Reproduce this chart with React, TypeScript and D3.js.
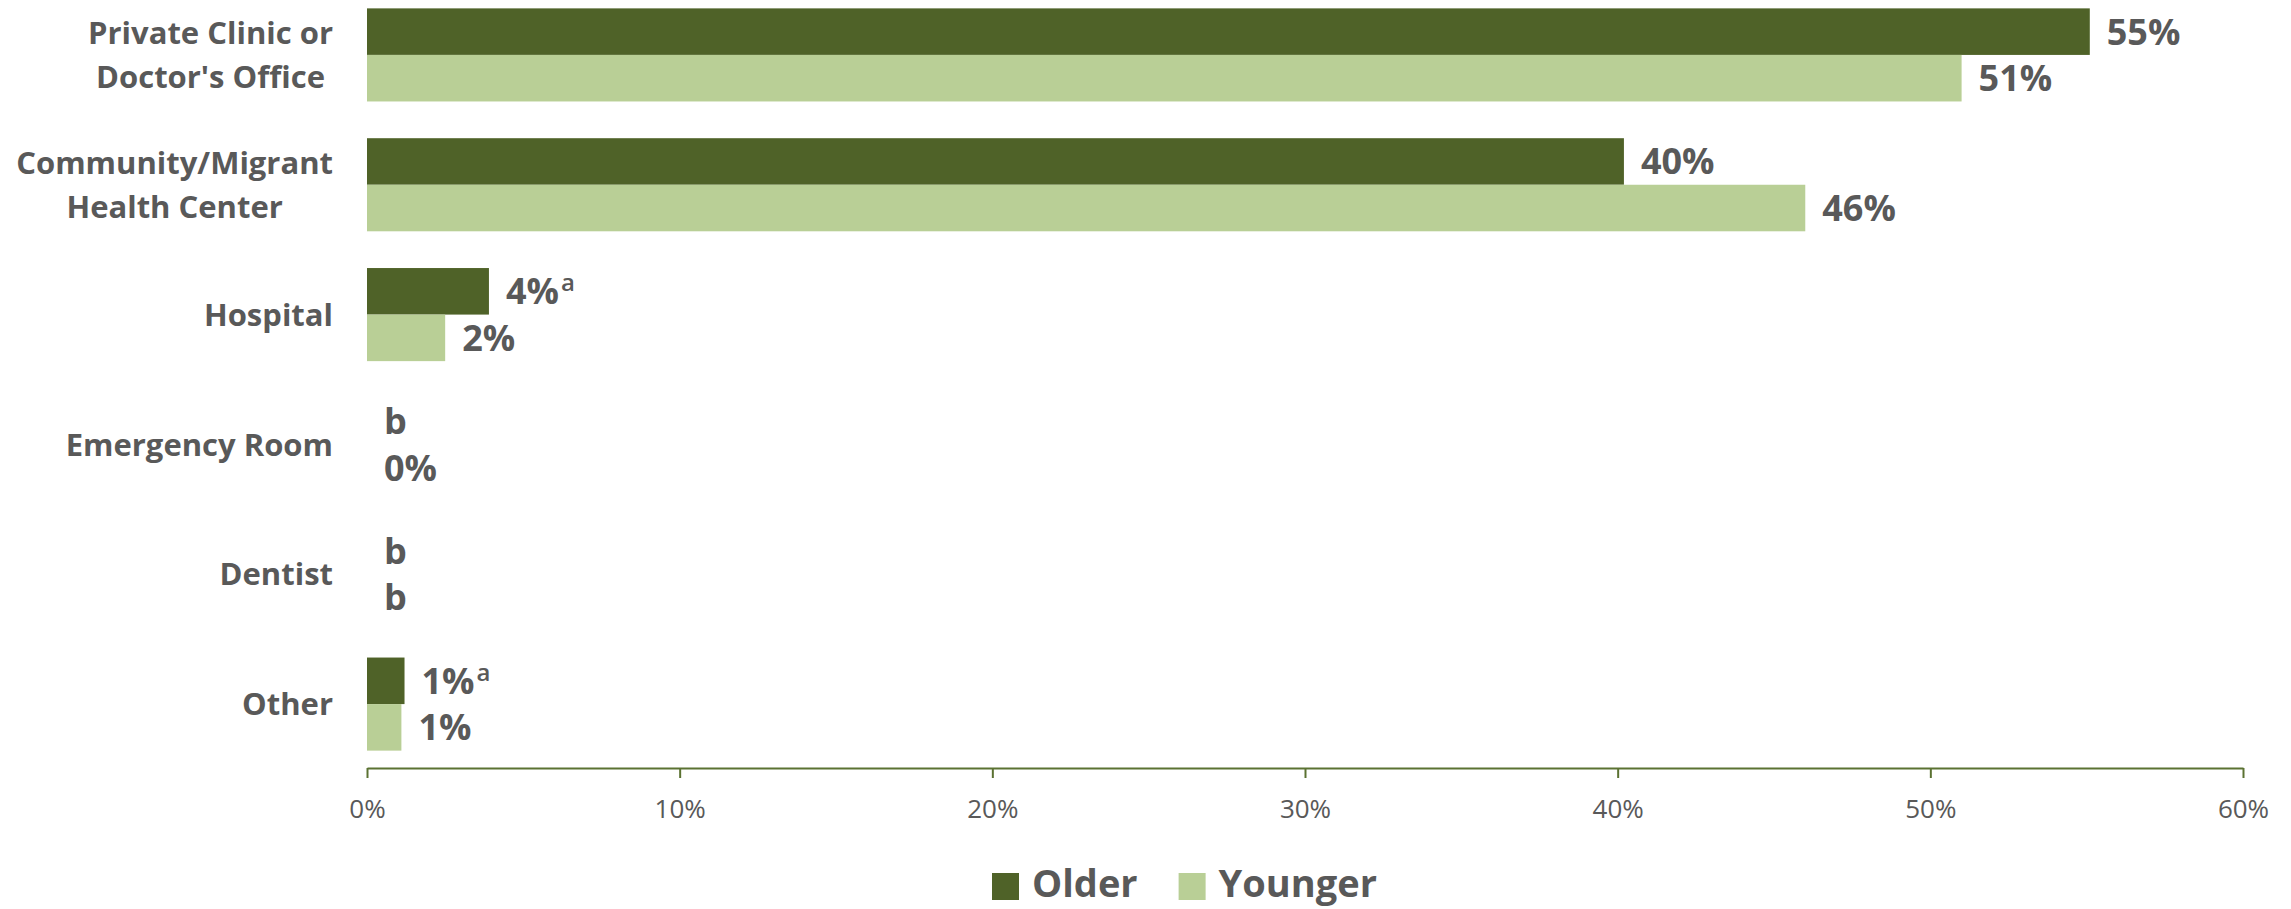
import React, { useEffect, useRef } from "react";
import * as d3 from "d3";

const categories = [
  "Private Clinic or Doctor's Office",
  "Community/Migrant Health Center",
  "Hospital",
  "Emergency Room",
  "Dentist",
  "Other",
];
const categoryLines = [
  ["Private Clinic or", "Doctor's Office"],
  ["Community/Migrant", "Health Center"],
  ["Hospital"],
  ["Emergency Room"],
  ["Dentist"],
  ["Other"],
];
const seriesNames = ["Older", "Younger"];
const olderValues: (number | null)[] = [55.1, 40.2, 3.9, null, null, 1.2];
const youngerValues: (number | null)[] = [51.0, 46.0, 2.5, 0, null, 1.1];
const olderLabels = ["55%", "40%", "4%", "b", "b", "1%"];
const olderNotes = ["", "", "a", "", "", "a"];
const youngerLabels = ["51%", "46%", "2%", "0%", "b", "1%"];
const youngerNotes = ["", "", "", "", "", ""];
const xTicks = [0, 10, 20, 30, 40, 50, 60];

const seriesColors = ["#4F6228", "#B9CF96"];

const W = 2291;
const H = 909;
const FONT = "'Open Sans', 'Noto Sans', sans-serif";
const GRAY = "#595959";

export default function App() {
  const ref = useRef<SVGSVGElement | null>(null);

  useEffect(() => {
    const svg = d3.select(ref.current);
    svg.selectAll("*").remove();

    const x = d3.scaleLinear().domain([0, 60]).range([367, 2243]);
    const y = d3
      .scaleBand<string>()
      .domain(categories)
      .range([-10, 769])
      .paddingInner(0.283)
      .paddingOuter(0.1415);
    const bh = y.bandwidth() / 2;
    const axisY = 768;

    const series = [
      { values: olderValues, labels: olderLabels, notes: olderNotes },
      { values: youngerValues, labels: youngerLabels, notes: youngerNotes },
    ];

    // bars
    series.forEach((s, si) => {
      svg
        .append("g")
        .selectAll("rect")
        .data(
          categories
            .map((c, i) => ({ c, v: s.values[i] }))
            .filter((d) => d.v !== null && (d.v as number) > 0)
        )
        .join("rect")
        .attr("x", x(0))
        .attr("y", (d) => (y(d.c) as number) + si * bh)
        .attr("width", (d) => x(d.v as number) - x(0))
        .attr("height", bh)
        .attr("fill", seriesColors[si]);
    });

    // value labels
    series.forEach((s, si) => {
      const g = svg.append("g");
      categories.forEach((c, i) => {
        const v = s.values[i] ?? 0;
        const t = g
          .append("text")
          .attr("x", x(v) + 17)
          .attr("y", (y(c) as number) + si * bh + bh / 2)
          .attr("dy", "0.36em")
          .attr("font-family", FONT)
          .attr("font-weight", 700)
          .attr("font-size", 36)
          .attr("fill", GRAY)
          .text(s.labels[i]);
        if (s.notes[i]) {
          t.append("tspan")
            .attr("font-size", 24)
            .attr("font-weight", 600)
            .attr("dy", -13)
            .attr("dx", 2)
            .text(s.notes[i]);
        }
      });
    });

    // category labels (multi-line, centered block, right aligned)
    const labelRight = 333;
    const lineH = 44;
    categories.forEach((c, i) => {
      const lines = categoryLines[i];
      const cy = (y(c) as number) + y.bandwidth() / 2;
      const g = svg.append("g");
      const texts = lines.map((ln, li) =>
        g
          .append("text")
          .attr("y", cy - ((lines.length - 1) * lineH) / 2 + li * lineH)
          .attr("dy", "0.36em")
          .attr("font-family", FONT)
          .attr("font-weight", 700)
          .attr("font-size", 31)
          .attr("fill", GRAY)
          .attr("text-anchor", "middle")
          .text(ln)
      );
      const widths = texts.map((t) => (t.node() as SVGTextElement).getComputedTextLength());
      const maxW = Math.max(...widths);
      texts.forEach((t) => t.attr("x", labelRight - maxW / 2));
    });

    // x axis
    const axis = d3
      .axisBottom(x)
      .tickValues(xTicks)
      .tickSize(10)
      .tickSizeOuter(0)
      .tickFormat((d) => `${d}%`);
    const ag = svg.append("g").attr("transform", `translate(0,${axisY})`).call(axis);
    ag.select(".domain").attr("stroke", "#5B7232").attr("stroke-width", 2);
    ag.selectAll(".tick line").attr("stroke", "#5B7232").attr("stroke-width", 2);
    ag.selectAll(".tick text")
      .attr("y", 50)
      .attr("dy", 0)
      .attr("font-family", FONT)
      .attr("font-size", 26)
      .attr("fill", GRAY);

    // legend
    const lg = svg.append("g");
    let lx = 992;
    const sq = 27;
    const legendBase = 897;
    seriesNames.forEach((name, si) => {
      lg.append("rect")
        .attr("x", lx)
        .attr("y", 873)
        .attr("width", sq)
        .attr("height", sq)
        .attr("fill", seriesColors[si]);
      const t = lg
        .append("text")
        .attr("x", lx + sq + 13)
        .attr("y", legendBase)
        .attr("font-family", FONT)
        .attr("font-weight", 700)
        .attr("font-size", 38)
        .attr("fill", GRAY)
        .text(name);
      const w = (t.node() as SVGTextElement).getComputedTextLength();
      lx = lx + sq + 13 + w + 41;
    });
  }, []);

  return (
    <svg
      ref={ref}
      width={W}
      height={H}
      style={{ position: "absolute", left: 0, top: 0, display: "block", background: "#fff" }}
    />
  );
}
